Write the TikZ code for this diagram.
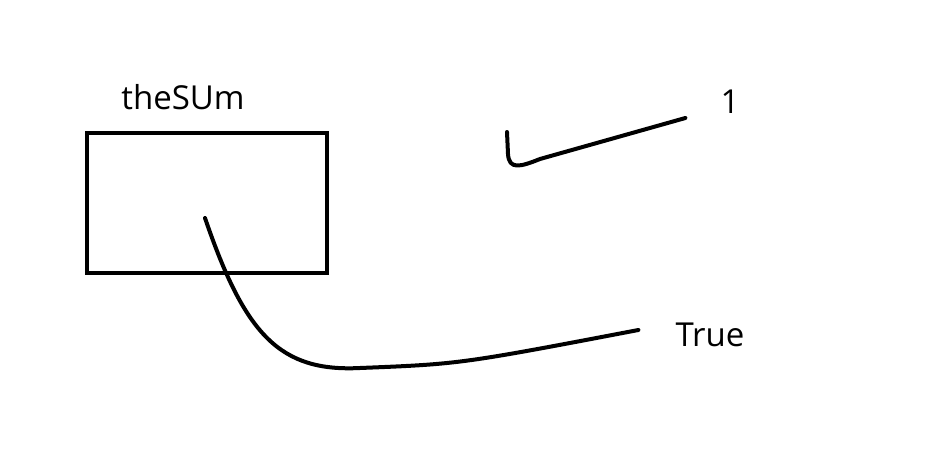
\documentclass[tikz,border=0pt]{standalone}
\usepackage{fontspec}
\setmainfont{Open Sans}
\usetikzlibrary{positioning}

\begin{document}
\begin{tikzpicture}[
 x=1pt,y=-1pt,
 box/.style={draw=black,line width=4pt,minimum width=240pt,minimum height=140pt,inner sep=0pt},
 lbl/.style={font=\fontsize{33}{40}\selectfont,inner sep=0pt,anchor=base},
 wire/.style={draw=black,line width=4pt,line cap=round,line join=round}
]
\useasboundingbox (0,0) rectangle (925,466);
\node[box] (sum) at (207,203) {};
\node[lbl] (name) at (183,109) {theSUm};
\node[lbl] (one) at (730,113) {1};
\node[lbl] (true) at (710,346) {True};
\coordinate (inside) at (205,218);
\coordinate (hook) at (507,132);
\draw[wire] (inside) .. controls (245,335) and (280,372) .. (360,368) .. controls (460,364) .. ([xshift=-37pt,yshift=16pt]true.base west);
\draw[wire] (hook) -- (508,154) .. controls (509,170) and (520,167) .. (540,159) -- ([xshift=-35pt,yshift=-5pt]one.base west);
\end{tikzpicture}
\end{document}
